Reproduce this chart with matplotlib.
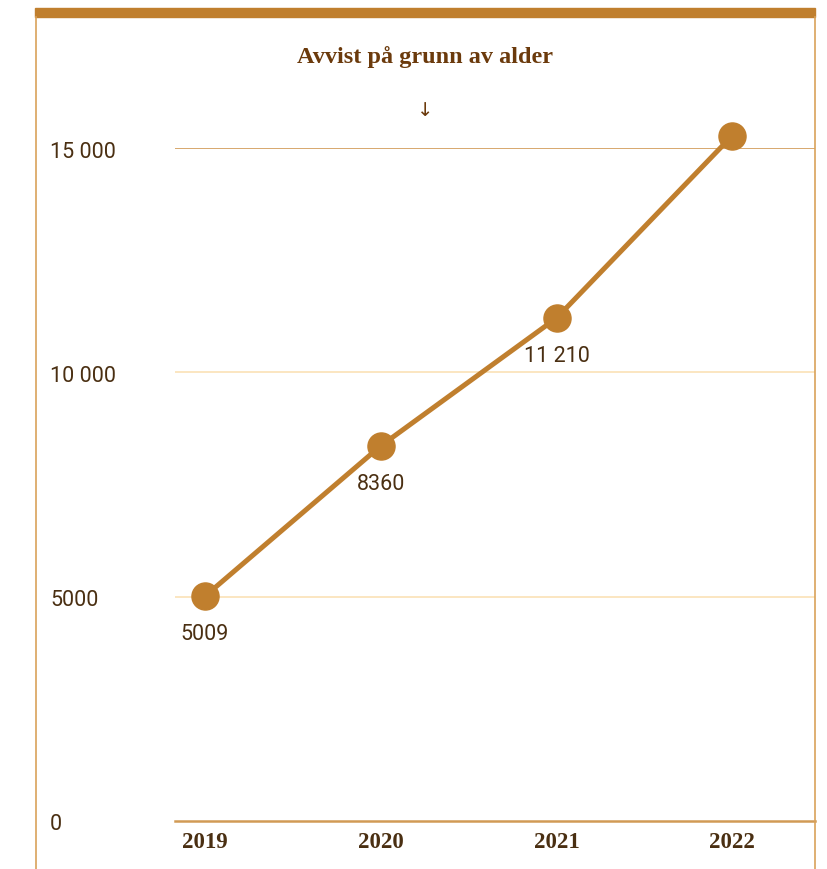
import matplotlib.pyplot as plt
from matplotlib.patches import Rectangle
from matplotlib.lines import Line2D

years = ["2019", "2020", "2021", "2022"]
values = [5009, 8360, 11210, 15278]
value_labels = ["5009", "8360", "11 210", "15 278"]
yticks = [0, 5000, 10000, 15000]
ytick_labels = ["0", "5000", "10 000", "15 000"]

GOLD = "#c07f2e"
DARK = "#4a2f12"
TITLE = "#6b3a0c"

W, H = 828, 870
fig = plt.figure(figsize=(W / 100, H / 100), dpi=100)

# outer frame: thick top bar and thin side lines
fig.patches.append(Rectangle((35 / W, 1 - 18 / H), 780 / W, 9 / H,
                             transform=fig.transFigure, color=GOLD, zorder=0))
for xp in (35.5, 815.5):
    fig.lines.append(Line2D([xp / W, xp / W], [0, 1 - 18 / H],
                            transform=fig.transFigure, color="#d9a25a", lw=1.2))

ax = fig.add_axes([175 / W, 1 - 822 / H, 640 / W, (822 - 149) / H])
x = list(range(len(years)))
ax.set_xlim(-0.17, 3.47)
ax.set_ylim(0, 15000)

for t in (5000, 10000):
    ax.axhline(t, color="#fbe2b6", lw=1.2, zorder=1)
ax.axhline(15000, color="#d4a162", lw=1.3, zorder=1)
ax.axhline(0, color="#d19a55", lw=1.8, zorder=1, clip_on=False)

ax.plot(x, values, color=GOLD, lw=3.6, marker="o", markersize=19.5,
        zorder=3, clip_on=False)
for xi, v, lab in zip(x, values, value_labels):
    ax.annotate(lab, (xi, v), xytext=(0, -27), textcoords="offset points",
                ha="center", va="center", fontsize=15.5, color=DARK,
                family="Roboto", zorder=4)

for s in ax.spines.values():
    s.set_visible(False)
ax.set_xticks(x)
ax.set_xticklabels(years, family="Liberation Serif", fontweight="bold",
                   fontsize=16.5, color=DARK)
ax.tick_params(axis="x", length=0, pad=7)
ax.set_yticks([])
for t, lab in zip(yticks, ytick_labels):
    fig.text(50 / W, (H - (825 - t * 673 / 15000)) / H, lab, family="Roboto",
             fontsize=15.5, color=DARK, ha="left", va="center")

fig.text(425 / W, 1 - 57 / H, "Avvist på grunn av alder", ha="center",
         va="center", family="Liberation Serif", fontweight="bold",
         fontsize=17.5, color=TITLE)
fig.text(425 / W, 1 - 111 / H, "↓", ha="center", va="center",
         family="DejaVu Sans", fontsize=14, color=TITLE)

fig.savefig("out.png", dpi=100)
